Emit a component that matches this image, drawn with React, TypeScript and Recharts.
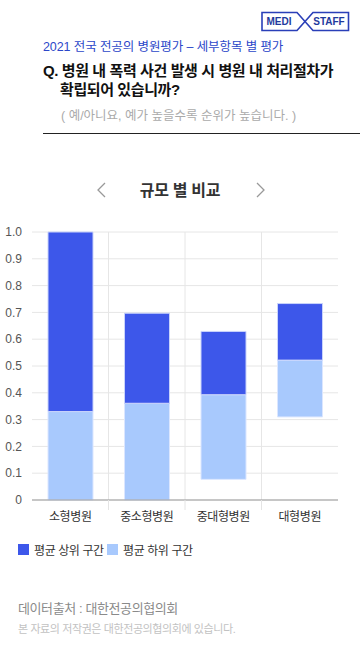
import React from 'react';
import { BarChart, Bar, XAxis, YAxis, CartesianGrid } from 'recharts';

const categories = ['소형병원', '중소형병원', '중대형병원', '대형병원'];
const lowerStart = [0, 0, 0.077, 0.31];
const midValues = [0.33, 0.361, 0.393, 0.522];
const upperEnd = [1.0, 0.697, 0.629, 0.733];
const yTicks = [0, 0.1, 0.2, 0.3, 0.4, 0.5, 0.6, 0.7, 0.8, 0.9, 1.0];
const seriesNames = ['평균 상위 구간', '평균 하위 구간'];

const DARK = '#3d57ea';
const LIGHT = '#a8c9fd';
const FONT = "'Liberation Sans', 'Noto Sans CJK KR', sans-serif";

const chartData = categories.map((name, i) => ({
  name,
  base: lowerStart[i],
  lower: +(midValues[i] - lowerStart[i]).toFixed(3),
  upper: +(upperEnd[i] - midValues[i]).toFixed(3),
}));

const XTick = (props: any) => {
  const { x, y, payload, index, width, visibleTicksCount } = props;
  const band = width / visibleTicksCount;
  return (
    <g>
      {index > 0 && (
        <line x1={x - band / 2} x2={x - band / 2} y1={y - 10} y2={y} stroke="#e4e4e4" strokeWidth={1} />
      )}
      <text x={x} y={y + 11} textAnchor="middle" fontSize={12} fill="#333" fontFamily={FONT} letterSpacing={-0.4}>
        {payload.value}
      </text>
    </g>
  );
};

export default function App() {
  return (
    <div style={{ position: 'absolute', left: 0, top: 0, width: 360, height: 668, background: '#fff', fontFamily: FONT, overflow: 'hidden' }}>
      {/* logo */}
      <svg style={{ position: 'absolute', left: 0, top: 0 }} width={360} height={40}>
        <path d="M262,12.5 H297 L313,30.5 H348.5 V12.5 H313 L297,30.5 H262 Z" fill="none" stroke="#2a3fb8" strokeWidth={1.6} />
        <text x={279} y={25} textAnchor="middle" fontSize={10} fontWeight={700} fill="#1f3a9e" fontFamily={FONT}>MEDI</text>
        <text x={329} y={25} textAnchor="middle" fontSize={10} fontWeight={700} fill="#1f3a9e" fontFamily={FONT}>STAFF</text>
      </svg>
      <div style={{ position: 'absolute', left: 43, top: 36, fontSize: 12.5, color: '#2c47c9', letterSpacing: -0.1, whiteSpace: 'nowrap' }}>
        2021 전국 전공의 병원평가 – 세부항목 별 평가
      </div>
      <div style={{ position: 'absolute', left: 43, top: 61, fontSize: 15, fontWeight: 700, color: '#111', letterSpacing: -0.4, lineHeight: '19px', whiteSpace: 'nowrap' }}>
        Q. 병원 내 폭력 사건 발생 시 병원 내 처리절차가
        <br />
        <span style={{ paddingLeft: 17 }}>확립되어 있습니까?</span>
      </div>
      <div style={{ position: 'absolute', left: 61, top: 105, fontSize: 12.5, color: '#aaa', letterSpacing: 0, whiteSpace: 'nowrap' }}>
        ( 예/아니요, 예가 높을수록 순위가 높습니다. )
      </div>
      <div style={{ position: 'absolute', left: 43, top: 133, width: 317, height: 1, background: '#222' }} />

      {/* chart title */}
      <svg style={{ position: 'absolute', left: 0, top: 170 }} width={360} height={40}>
        <polyline points="105,13 98,20 105,27" fill="none" stroke="#999" strokeWidth={1.3} />
        <polyline points="257,13 264,20 257,27" fill="none" stroke="#999" strokeWidth={1.3} />
      </svg>
      <div style={{ position: 'absolute', left: 0, top: 177, width: 360, textAlign: 'center', fontSize: 16, fontWeight: 700, color: '#333', letterSpacing: -0.3 }}>
        규모 별 비교
      </div>

      <div style={{ position: 'absolute', left: 0, top: 220 }}>
        <BarChart width={360} height={310} data={chartData} margin={{ top: 12, right: 22, left: 0, bottom: 0 }} barSize={45}>
          <CartesianGrid
            stroke="#e6e6e6"
            verticalCoordinatesGenerator={({ offset }: any) => [1, 2, 3].map((i) => offset.left + (offset.width * i) / 4)}
          />
          <XAxis dataKey="name" axisLine={{ stroke: '#999' }} tickLine={false} tickMargin={4} tick={<XTick />} height={30} interval={0} />
          <YAxis
            domain={[0, 1]}
            ticks={yTicks}
            width={32}
            axisLine={false}
            tickLine={false}
            tickMargin={4}
            tick={{ fontSize: 12, fill: '#555', fontFamily: FONT }}
            tickFormatter={(v: number) => (v === 0 ? '0' : v.toFixed(1))}
          />
          <Bar dataKey="base" stackId="s" fill="transparent" isAnimationActive={false} />
          <Bar dataKey="lower" name={seriesNames[1]} stackId="s" fill={LIGHT} stroke="#dbe6ff" strokeWidth={1} isAnimationActive={false} />
          <Bar dataKey="upper" name={seriesNames[0]} stackId="s" fill={DARK} stroke="#c9d3fb" strokeWidth={1} isAnimationActive={false} />
        </BarChart>
      </div>

      {/* legend */}
      <div style={{ position: 'absolute', left: 18, top: 544, width: 11, height: 11, background: DARK }} />
      <div style={{ position: 'absolute', left: 34, top: 541, fontSize: 12, color: '#333', letterSpacing: -0.4, whiteSpace: 'nowrap' }}>{seriesNames[0]}</div>
      <div style={{ position: 'absolute', left: 107, top: 544, width: 11, height: 11, background: LIGHT }} />
      <div style={{ position: 'absolute', left: 123, top: 541, fontSize: 12, color: '#333', letterSpacing: -0.4, whiteSpace: 'nowrap' }}>{seriesNames[1]}</div>

      <div style={{ position: 'absolute', left: 18, top: 598, fontSize: 13, color: '#8a8a8a', letterSpacing: -0.4, whiteSpace: 'nowrap' }}>
        데이터출처 : 대한전공의협의회
      </div>
      <div style={{ position: 'absolute', left: 18, top: 620, fontSize: 11, color: '#c2c2c2', letterSpacing: -0.4, whiteSpace: 'nowrap' }}>
        본 자료의 저작권은 대한전공의협의회에 있습니다.
      </div>
    </div>
  );
}
